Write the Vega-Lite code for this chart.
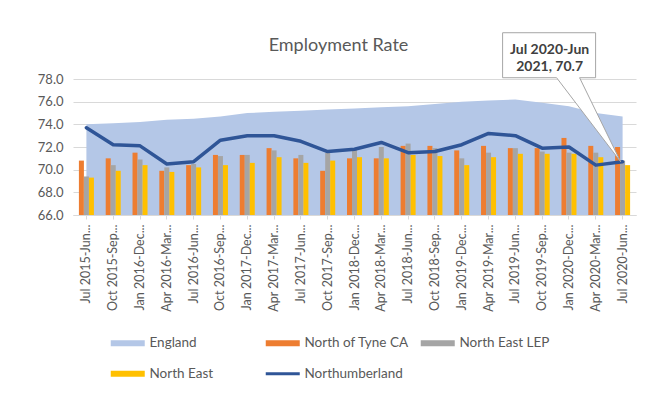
{
  "$schema": "https://vega.github.io/schema/vega-lite/v6.json",
  "width": 563,
  "height": 136,
  "autosize": {"type": "none"},
  "padding": {"left": 73, "top": 79, "right": 9, "bottom": 198},
  "background": "white",
  "title": {"text": "Employment Rate", "fontSize": 18, "font": "Lato", "fontWeight": "normal", "color": "#595959", "anchor": "middle", "frame": "group", "dx": -16, "offset": -24},
  "config": {"view": {"stroke": null}},
  "data": {"values": [
    {"period": "Jul 2015-Jun 2016", "England": 74.0, "North of Tyne CA": 70.8, "North East LEP": 69.4, "North East": 69.3, "Northumberland": 73.7},
    {"period": "Oct 2015-Sep 2016", "England": 74.1, "North of Tyne CA": 71.0, "North East LEP": 70.4, "North East": 69.9, "Northumberland": 72.2},
    {"period": "Jan 2016-Dec 2016", "England": 74.2, "North of Tyne CA": 71.5, "North East LEP": 70.9, "North East": 70.4, "Northumberland": 72.1},
    {"period": "Apr 2016-Mar 2017", "England": 74.4, "North of Tyne CA": 69.9, "North East LEP": 70.2, "North East": 69.8, "Northumberland": 70.5},
    {"period": "Jul 2016-Jun 2017", "England": 74.5, "North of Tyne CA": 70.4, "North East LEP": 70.5, "North East": 70.2, "Northumberland": 70.7},
    {"period": "Oct 2016-Sep 2017", "England": 74.7, "North of Tyne CA": 71.3, "North East LEP": 71.2, "North East": 70.4, "Northumberland": 72.6},
    {"period": "Jan 2017-Dec 2017", "England": 75.0, "North of Tyne CA": 71.3, "North East LEP": 71.3, "North East": 70.6, "Northumberland": 73.0},
    {"period": "Apr 2017-Mar 2018", "England": 75.1, "North of Tyne CA": 71.9, "North East LEP": 71.7, "North East": 71.1, "Northumberland": 73.0},
    {"period": "Jul 2017-Jun 2018", "England": 75.2, "North of Tyne CA": 71.0, "North East LEP": 71.3, "North East": 70.6, "Northumberland": 72.5},
    {"period": "Oct 2017-Sep 2018", "England": 75.3, "North of Tyne CA": 69.9, "North East LEP": 71.5, "North East": 70.8, "Northumberland": 71.6},
    {"period": "Jan 2018-Dec 2018", "England": 75.4, "North of Tyne CA": 71.0, "North East LEP": 71.8, "North East": 71.1, "Northumberland": 71.8},
    {"period": "Apr 2018-Mar 2019", "England": 75.5, "North of Tyne CA": 71.0, "North East LEP": 72.0, "North East": 71.0, "Northumberland": 72.4},
    {"period": "Jul 2018-Jun 2019", "England": 75.6, "North of Tyne CA": 72.1, "North East LEP": 72.3, "North East": 71.3, "Northumberland": 71.5},
    {"period": "Oct 2018-Sep 2019", "England": 75.8, "North of Tyne CA": 72.1, "North East LEP": 71.9, "North East": 71.2, "Northumberland": 71.6},
    {"period": "Jan 2019-Dec 2019", "England": 76.0, "North of Tyne CA": 71.7, "North East LEP": 71.0, "North East": 70.4, "Northumberland": 72.2},
    {"period": "Apr 2019-Mar 2020", "England": 76.1, "North of Tyne CA": 72.1, "North East LEP": 71.5, "North East": 71.1, "Northumberland": 73.2},
    {"period": "Jul 2019-Jun 2020", "England": 76.2, "North of Tyne CA": 71.9, "North East LEP": 71.9, "North East": 71.4, "Northumberland": 73.0},
    {"period": "Oct 2019-Sep 2020", "England": 75.9, "North of Tyne CA": 71.9, "North East LEP": 71.6, "North East": 71.4, "Northumberland": 71.9},
    {"period": "Jan 2020-Dec 2020", "England": 75.6, "North of Tyne CA": 72.8, "North East LEP": 71.5, "North East": 71.4, "Northumberland": 72.0},
    {"period": "Apr 2020-Mar 2021", "England": 75.0, "North of Tyne CA": 72.1, "North East LEP": 71.5, "North East": 71.1, "Northumberland": 70.4},
    {"period": "Jul 2020-Jun 2021", "England": 74.7, "North of Tyne CA": 72.0, "North East LEP": 70.8, "North East": 70.4, "Northumberland": 70.7}
  ]},
  "transform": [{"fold": ["England", "North of Tyne CA", "North East LEP", "North East", "Northumberland"], "as": ["series", "value"]}],
  "encoding": {
    "x": {
      "field": "period", "type": "nominal", "sort": null,
      "scale": {"paddingInner": 0.44, "paddingOuter": 0.22},
      "axis": {"title": null, "labelAngle": -90, "labelExpr": "slice(datum.value, 0, 12) + '...'", "labelFont": "Lato", "labelFontSize": 12.5, "labelColor": "#595959", "labelPadding": 5, "domainColor": "#d9d9d9", "tickColor": "#d9d9d9", "tickSize": 4, "grid": false}
    },
    "y": {
      "field": "value", "type": "quantitative",
      "scale": {"domain": [66, 78], "zero": false, "nice": false},
      "axis": {"title": null, "values": [66, 68, 70, 72, 74, 76, 78], "format": ".1f", "labelFont": "Lato", "labelFontSize": 13, "labelColor": "#595959", "labelPadding": 10, "ticks": false, "domain": false, "gridColor": "#d9d9d9"}
    }
  },
  "layer": [
    {
      "transform": [{"filter": "datum.series === 'England'"}],
      "mark": {"type": "area", "opacity": 1},
      "encoding": {
        "y2": {"datum": 66},
        "color": {
          "field": "series", "type": "nominal",
          "scale": {"domain": ["England", "North of Tyne CA", "North East LEP", "North East", "Northumberland"], "range": ["#b4c7e7", "#ed7d31", "#a5a5a5", "#ffc000", "#2f5597"]},
          "legend": {
            "title": null, "orient": "none", "direction": "horizontal", "legendX": 48, "legendY": 257, "columns": 3, "gridAlign": "all", "columnPadding": 5, "rowPadding": 16, "symbolSize": 400, "labelFont": "Lato", "labelFontSize": 13.5, "labelColor": "#595959", "labelOffset": 15, "padding": 0,
            "encoding": {"symbols": {
              "shape": {"value": {"expr": "datum.value === 'Northumberland' ? 'M-1.7,0H1.7' : 'M-1.7,-0.3H1.7V0.3H-1.7Z'"}},
              "fill": {"value": {"expr": "datum.value === 'Northumberland' ? 'transparent' : scale('color', datum.value)"}},
              "stroke": {"value": {"expr": "datum.value === 'Northumberland' ? scale('color', datum.value) : 'transparent'"}},
              "strokeWidth": {"value": {"expr": "datum.value === 'Northumberland' ? 3 : 0"}},
              "opacity": {"value": 1}
            }}
          }
        }
      }
    },
    {
      "transform": [{"filter": "datum.series === 'North of Tyne CA' || datum.series === 'North East LEP' || datum.series === 'North East'"}],
      "mark": {"type": "bar"},
      "encoding": {
        "xOffset": {"field": "series", "type": "nominal", "sort": ["North of Tyne CA", "North East LEP", "North East"], "scale": {"paddingInner": 0, "paddingOuter": 0}},
        "y2": {"datum": 66},
        "color": {"field": "series", "type": "nominal"}
      }
    },
    {
      "transform": [{"filter": "datum.series === 'Northumberland'"}],
      "mark": {"type": "line", "strokeWidth": 3.5, "strokeJoin": "round", "strokeCap": "round"},
      "encoding": {"color": {"field": "series", "type": "nominal"}}
    },
    {
      "transform": [{"filter": "datum.series === 'Northumberland' && datum.period === 'Jul 2020-Jun 2021'"}],
      "mark": {"type": "point", "shape": "M-120,-129H-27V-84H-43L-2,0L-66,-84H-120Z", "size": 4, "filled": true, "fill": "white", "stroke": "#a6a6a6", "strokeWidth": 1, "opacity": 1},
      "encoding": {}
    },
    {
      "transform": [{"filter": "datum.series === 'Northumberland' && datum.period === 'Jul 2020-Jun 2021'"}],
      "mark": {"type": "text", "text": ["Jul 2020-Jun", "2021, 70.7"], "dx": -73, "dy": -112, "font": "Lato", "fontSize": 14, "fontWeight": "bold", "color": "#404040", "lineHeight": 17, "baseline": "middle", "align": "center"},
      "encoding": {}
    }
  ]
}
